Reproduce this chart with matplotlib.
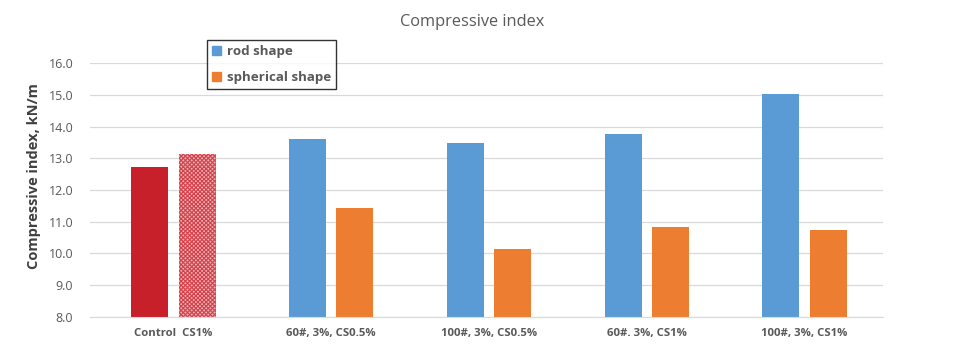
import matplotlib
matplotlib.use('Agg')
import matplotlib.pyplot as plt
import numpy as np
from matplotlib.patches import Patch

plt.rcParams['font.family'] = ['Open Sans', 'DejaVu Sans']
plt.rcParams['hatch.linewidth'] = 0.8

# Data
categories = ['Control  CS1%', '60#, 3%, CS0.5%', '100#, 3%, CS0.5%', '60#. 3%, CS1%', '100#, 3%, CS1%']
rod = [12.72, 13.61, 13.48, 13.76, 15.02]
spherical = [13.13, 11.43, 10.14, 10.84, 10.74]

blue = '#5B9BD5'
orange = '#ED7D31'
red = '#C8202A'
grey = '#595959'

fig = plt.figure(figsize=(9.57, 3.56), dpi=100)
ax = fig.add_axes([0.094, 0.1096, 0.829, 0.7134])

x = np.arange(len(categories))
w = 0.235
off = 0.15

# first group is the control (red), rest are rod / spherical
ax.bar(x[0] - off, rod[0], w, color=red, zorder=2)
ax.bar(x[0] + off, spherical[0], w, color='#eeb0b3', edgecolor='#d2404a',
       hatch='xxxxxxxx', linewidth=0, zorder=2)
ax.bar(x[1:] - off, rod[1:], w, color=blue, zorder=2)
ax.bar(x[1:] + off, spherical[1:], w, color=orange, zorder=2)

# Axes
ax.set_ylim(8.0, 16.0)
ax.set_xlim(-0.53, 4.5)
ax.set_yticks(np.arange(8, 16.5, 1.0))
ax.set_yticklabels(['%.1f' % v for v in np.arange(8, 16.5, 1.0)], color=grey, fontsize=9)
ax.set_xticks(x)
ax.set_xticklabels(categories, color=grey, fontsize=8.2, fontweight='bold')
ax.tick_params(axis='y', length=0, pad=12)
ax.tick_params(axis='x', length=0, pad=8)
ax.grid(True, axis='y', color='#d9d9d9', linewidth=0.9, zorder=0)
for s in ['top', 'right', 'left']:
    ax.spines[s].set_visible(False)
ax.spines['bottom'].set_color('#d9d9d9')

ax.set_ylabel('Compressive index, kN/m', fontsize=10.5, fontweight='bold', color='#404040')
ax.yaxis.set_label_coords(-0.062, 0.555)
fig.suptitle('Compressive index', x=0.493, y=0.96, fontsize=11.8, color=grey)

# Legend
handles = [Patch(color=blue, label='rod shape'), Patch(color=orange, label='spherical shape')]
leg = fig.legend(handles=handles, loc='upper left', bbox_to_anchor=(0.209, 0.906),
                 frameon=True, fancybox=False, handlelength=0.7, handleheight=0.7,
                 handletextpad=0.4, borderpad=0.4, labelspacing=0.95,
                 prop={'weight': 'bold', 'size': 9.6})
leg.get_frame().set_edgecolor('black')
leg.get_frame().set_linewidth(1.0)
for t in leg.get_texts():
    t.set_color(grey)

plt.savefig('out.png', dpi=100)
